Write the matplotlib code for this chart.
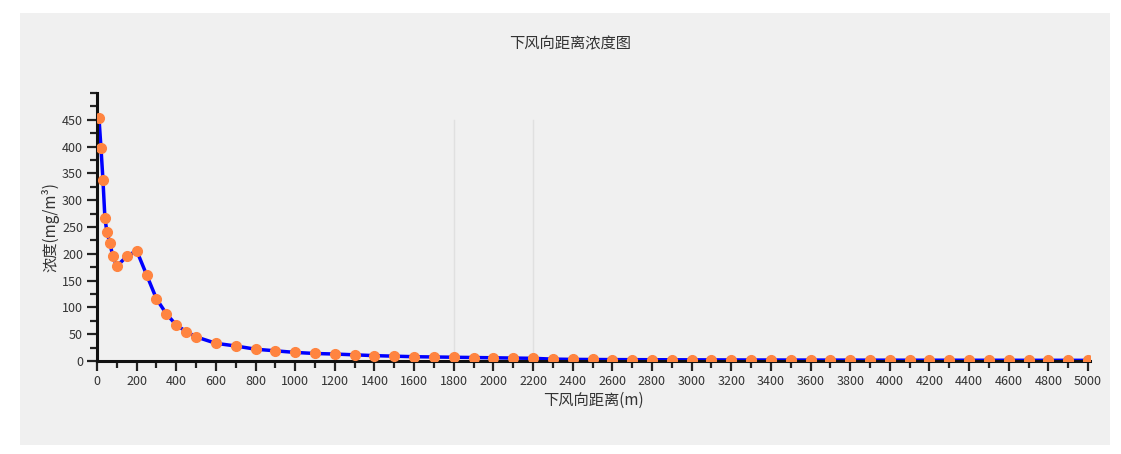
import matplotlib.pyplot as plt
from matplotlib.patches import Rectangle
from matplotlib.ticker import MultipleLocator

plt.rcParams['font.family'] = ['Noto Sans CJK SC', 'DejaVu Sans']

# downwind distance (m) and concentration (mg/m3)
dist = [10, 20, 30, 40, 50, 65, 80, 100, 150, 200, 250, 300, 350, 400, 450, 500,
        600, 700, 800, 900, 1000, 1100, 1200, 1300, 1400, 1500, 1600, 1700, 1800,
        1900, 2000, 2100, 2200, 2300, 2400, 2500, 2600, 2700, 2800, 2900, 3000,
        3100, 3200, 3300, 3400, 3500, 3600, 3700, 3800, 3900, 4000, 4100, 4200,
        4300, 4400, 4500, 4600, 4700, 4800, 4900, 5000]
conc = [453, 398, 338, 266, 241, 220, 195, 177, 195, 206, 161, 116, 88, 67, 55, 45,
        33, 28, 22, 19, 16, 14, 13, 11.5, 10, 9, 8, 7.5, 7, 6.5, 6, 5.5, 5, 3.5,
        3, 2.8, 2.6, 2.5, 2.4, 2.3, 2.2, 2.1, 2.0, 1.9, 1.9, 1.8, 1.8, 1.7, 1.7,
        1.6, 1.6, 1.5, 1.5, 1.5, 1.4, 1.4, 1.4, 1.3, 1.3, 1.3, 1.2]

title = '下风向距离浓度图'
xlabel = '下风向距离(m)'
ylabel = '浓度(mg/m³)'

fig = plt.figure(figsize=(11.21, 4.54), dpi=100)
fig.patch.set_facecolor('white')
fig.add_artist(Rectangle((20 / 1121, 9 / 454), 1090 / 1121, 432 / 454,
                         transform=fig.transFigure, facecolor='#f0f0f0',
                         edgecolor='none', zorder=0))

ax = fig.add_axes([97 / 1121, 1 - 361 / 454, 993 / 1121, 268 / 454])
ax.set_facecolor('none')

# faint vertical streaks visible in the background
for xv in [1800, 2200]:
    ax.axvline(xv, ymin=0.02, ymax=0.9, color='#e0e0e0', lw=1, zorder=0)

ax.plot(dist, conc, color='#0000ff', lw=2.5, zorder=2)
ax.plot(dist, conc, ls='none', marker='o', ms=7, color='#ff8440',
        markeredgecolor='#ff8440', zorder=3)

ax.set_xlim(0, 5010)
ax.set_ylim(0, 500)
ax.xaxis.set_major_locator(MultipleLocator(200))
ax.xaxis.set_minor_locator(MultipleLocator(100))
ax.set_yticks(range(0, 451, 50))
ax.yaxis.set_minor_locator(MultipleLocator(25))

for s in ['top', 'right']:
    ax.spines[s].set_visible(False)
for s in ['left', 'bottom']:
    ax.spines[s].set_linewidth(2.2)
    ax.spines[s].set_color('#111111')

ax.tick_params(which='major', length=7, width=1.6, color='#222222',
               labelsize=9, labelcolor='#333333', pad=3)
ax.tick_params(which='minor', length=5, width=1.6, color='#222222')

fig.text(570 / 1121, 1 - 44 / 454, title, fontsize=11, color='#333333',
         ha='center', va='center')
ax.set_xlabel(xlabel, fontsize=11, color='#333333', labelpad=3)
ax.set_ylabel(ylabel, fontsize=11, color='#333333', labelpad=2)

fig.savefig('out.png', dpi=100, facecolor=fig.get_facecolor())
